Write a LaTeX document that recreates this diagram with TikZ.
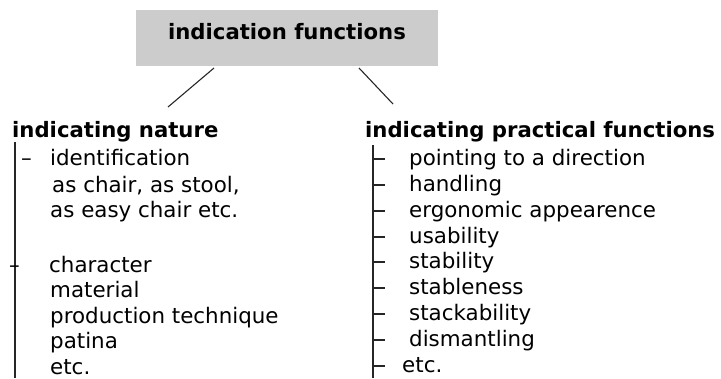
\documentclass[tikz,border=0pt]{standalone}
\usepackage{fontspec}
\setmainfont{DejaVu Sans}
\begin{document}
\begin{tikzpicture}[x=1pt,y=-1pt,
  txt/.style={anchor=base west,inner sep=0pt,font=\fontsize{21.4}{26}\selectfont},
  head/.style={anchor=base west,inner sep=0pt,font=\fontsize{21.2}{26}\selectfont\bfseries},
  topbox/.style={fill=black!20,draw=none,minimum width=302pt,minimum height=56pt,inner sep=0pt},
  conn/.style={draw=black!85,line width=1.1pt},
  vline/.style={draw=black!85,line width=1.4pt},
  tick/.style={draw=black!85,line width=1.3pt}]
\useasboundingbox (0,0) rectangle (721,378);
% title box
\node[topbox] (top) at (287,38) {};
\node[anchor=base,inner sep=0pt,font=\fontsize{21.2}{26}\selectfont\bfseries] (toptext) at (287,39) {indication functions};
% headings
\node[head] (nat) at (12,137) {indicating nature};
\node[head] (prac) at (365,137) {indicating practical functions};
% connectors
\coordinate (la) at (214,68);
\coordinate (lb) at (168,107);
\coordinate (ra) at (359,68);
\coordinate (rb) at (393,104);
\draw[conn] (la) -- (lb);
\draw[conn] (ra) -- (rb);
% left column
\coordinate (lt) at (15,142);
\coordinate (lbot) at (15,378);
\draw[vline] (lt) -- (lbot);
\node[txt] (d1) at (21,165) {–};
\node[txt] (n1) at (50,165) {identification};
\node[txt] (n2) at (52,192) {as chair, as stool,};
\node[txt] (n3) at (50,217) {as easy chair etc.};
\node[txt] (d2) at (9,272) {–};
\node[txt] (n4) at (49,272) {character};
\node[txt] (n5) at (50,297) {material};
\node[txt] (n6) at (50,323) {production technique};
\node[txt] (n7) at (50,348) {patina};
\node[txt] (n8) at (50,374) {etc.};
% right column
\coordinate (rt) at (373,145);
\coordinate (rbot) at (373,378);
\draw[vline] (rt) -- (rbot);
\foreach \y/\t/\n in {165/pointing to a direction/p1,191/handling/p2,217/ergonomic appearence/p3,243/usability/p4,268/stability/p5,294/stableness/p6,320/stackability/p7,346/dismantling/p8}{
  \node[txt] (\n) at (409,\y) {\t};
  \coordinate (\n t) at (373,\y-6);
  \coordinate (\n e) at (385,\y-6);
  \draw[tick] (\n t) -- (\n e);
}
\node[txt] (p9) at (402,372) {etc.};
\coordinate (p9t) at (373,366);
\coordinate (p9e) at (385,366);
\draw[tick] (p9t) -- (p9e);
\end{tikzpicture}
\end{document}
